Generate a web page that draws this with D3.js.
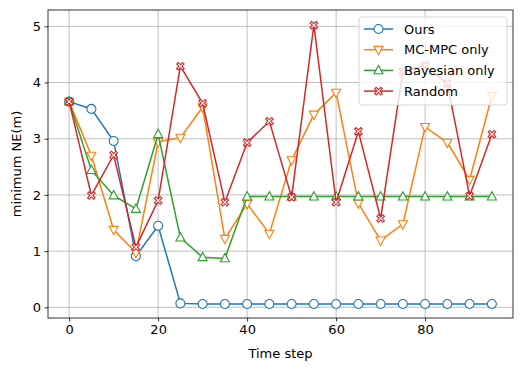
<!DOCTYPE html>
<html>
<head>
<meta charset="utf-8">
<script src="https://cdn.jsdelivr.net/npm/d3@7"></script>
<style>
  body { margin: 0; background: #fff; }
  text { font-family: "DejaVu Sans", sans-serif; }
</style>
</head>
<body>
<div id="chart"></div>
<script>
// time steps
const steps = [0,5,10,15,20,25,30,35,40,45,50,55,60,65,70,75,80,85,90,95];
const ours = [3.66,3.53,2.96,0.91,1.45,0.07,0.06,0.06,0.06,0.06,0.06,0.06,0.06,0.06,0.06,0.06,0.06,0.06,0.06,0.06];
const mcmpc = [3.66,2.70,1.38,0.97,2.94,3.02,3.56,1.22,1.84,1.31,2.62,3.43,3.82,1.85,1.19,1.48,3.21,2.93,2.27,3.76];
const bayesian = [3.66,2.44,1.99,1.75,3.08,1.24,0.89,0.87,1.97,1.97,1.97,1.97,1.97,1.97,1.97,1.97,1.97,1.97,1.97,1.97];
const random = [3.66,1.99,2.71,1.07,1.90,4.29,3.63,1.87,2.93,3.31,1.96,5.02,1.87,3.13,1.58,4.20,4.30,3.98,1.98,3.08];
const xTicks = [0,20,40,60,80];
const yTicks = [0,1,2,3,4,5];

const series = [
  {name:'Ours', values: ours, color:'#1f77b4', marker:'circle'},
  {name:'MC-MPC only', values: mcmpc, color:'#ff7f0e', marker:'tridown'},
  {name:'Bayesian only', values: bayesian, color:'#2ca02c', marker:'triup'},
  {name:'Random', values: random, color:'#d62728', marker:'x'}
];

const W = 523, H = 371;
const m = {top: 10, right: 10, bottom: 53, left: 48};
const iw = W - m.left - m.right, ih = H - m.top - m.bottom;

const svg = d3.select('#chart').append('svg').attr('width', W).attr('height', H);
const g = svg.append('g').attr('transform', 'translate(' + m.left + ',' + m.top + ')');

const x = d3.scaleLinear().domain([-4.75, 99.75]).range([0, iw]);
const y = d3.scaleLinear().domain([-0.19, 5.29]).range([ih, 0]);

// grid
g.append('g').selectAll('line').data(xTicks).enter().append('line')
  .attr('x1', d => x(d)).attr('x2', d => x(d)).attr('y1', 0).attr('y2', ih)
  .attr('stroke', '#b0b0b0').attr('stroke-width', 0.8);
g.append('g').selectAll('line').data(yTicks).enter().append('line')
  .attr('y1', d => y(d)).attr('y2', d => y(d)).attr('x1', 0).attr('x2', iw)
  .attr('stroke', '#b0b0b0').attr('stroke-width', 0.8);

// axes
const xAxis = g.append('g').attr('transform', 'translate(0,' + ih + ')')
  .call(d3.axisBottom(x).tickValues(xTicks).tickFormat(d3.format('d')).tickSize(3.5).tickPadding(3.5));
const yAxis = g.append('g')
  .call(d3.axisLeft(y).tickValues(yTicks).tickFormat(d3.format('d')).tickSize(3.5).tickPadding(3.5));
[xAxis, yAxis].forEach(a => {
  a.select('.domain').remove();
  a.selectAll('text').attr('font-size', 13).attr('fill', '#000').style('font-family', '"DejaVu Sans", sans-serif');
  a.selectAll('line').attr('stroke', '#000').attr('stroke-width', 0.8);
});

const line = d3.line().x((d, i) => x(steps[i])).y(d => y(d));

function drawMarker(sel, type, color) {
  const s = 4.5;
  if (type === 'circle') {
    sel.append('circle').attr('r', s).attr('fill', '#fff').attr('stroke', color).attr('stroke-width', 1.1);
  } else if (type === 'tridown') {
    sel.append('path').attr('d', 'M' + (-s) + ',' + (-s*0.75) + 'L' + s + ',' + (-s*0.75) + 'L0,' + (s*1.1) + 'Z')
      .attr('fill', '#fff').attr('stroke', color).attr('stroke-width', 1.1);
  } else if (type === 'triup') {
    sel.append('path').attr('d', 'M' + (-s) + ',' + (s*0.75) + 'L' + s + ',' + (s*0.75) + 'L0,' + (-s*1.1) + 'Z')
      .attr('fill', '#fff').attr('stroke', color).attr('stroke-width', 1.1);
  } else {
    const a = 3.8, b = 1.5;
    const p = 'M' + (-a + b) + ',' + (-a) + 'L0,' + (-b) + 'L' + (a - b) + ',' + (-a) + 'L' + a + ',' + (-a + b) +
      'L' + b + ',0L' + a + ',' + (a - b) + 'L' + (a - b) + ',' + a + 'L0,' + b + 'L' + (-a + b) + ',' + a +
      'L' + (-a) + ',' + (a - b) + 'L' + (-b) + ',0L' + (-a) + ',' + (-a + b) + 'Z';
    sel.append('path').attr('d', p).attr('fill', '#fff').attr('stroke', color).attr('stroke-width', 1.1);
  }
}

series.forEach(s => {
  g.append('path').datum(s.values).attr('d', line)
    .attr('fill', 'none').attr('stroke', s.color).attr('stroke-width', 1.5);
  s.values.forEach((v, i) => {
    const mk = g.append('g').attr('transform', 'translate(' + x(steps[i]) + ',' + y(v) + ')');
    drawMarker(mk, s.marker, s.color);
  });
});

// frame
g.append('rect').attr('width', iw).attr('height', ih).attr('fill', 'none').attr('stroke', '#000').attr('stroke-width', 0.8);

// labels
svg.append('text').attr('x', m.left + iw / 2).attr('y', H - 13).attr('text-anchor', 'middle')
  .attr('font-size', 13).text('Time step');
svg.append('text').attr('transform', 'translate(21,' + (m.top + ih / 2) + ') rotate(-90)')
  .attr('text-anchor', 'middle').attr('font-size', 13).text('minimum NE(m)');

// legend
const leg = svg.append('g').attr('transform', 'translate(359,17)');
leg.append('rect').attr('x', 0).attr('y', 0).attr('width', 148).attr('height', 88).attr('rx', 3)
  .attr('fill', '#fff').attr('fill-opacity', 0.8).attr('stroke', '#ccc').attr('stroke-width', 0.8);
series.forEach((s, i) => {
  const yy = 12 + i * 20.7;
  leg.append('line').attr('x1', 5).attr('x2', 34).attr('y1', yy).attr('y2', yy)
    .attr('stroke', s.color).attr('stroke-width', 1.5);
  const mk = leg.append('g').attr('transform', 'translate(19.5,' + yy + ')');
  drawMarker(mk, s.marker, s.color);
  leg.append('text').attr('x', 45).attr('y', yy + 4.5).attr('font-size', 13).text(s.name);
});
</script>
</body>
</html>
